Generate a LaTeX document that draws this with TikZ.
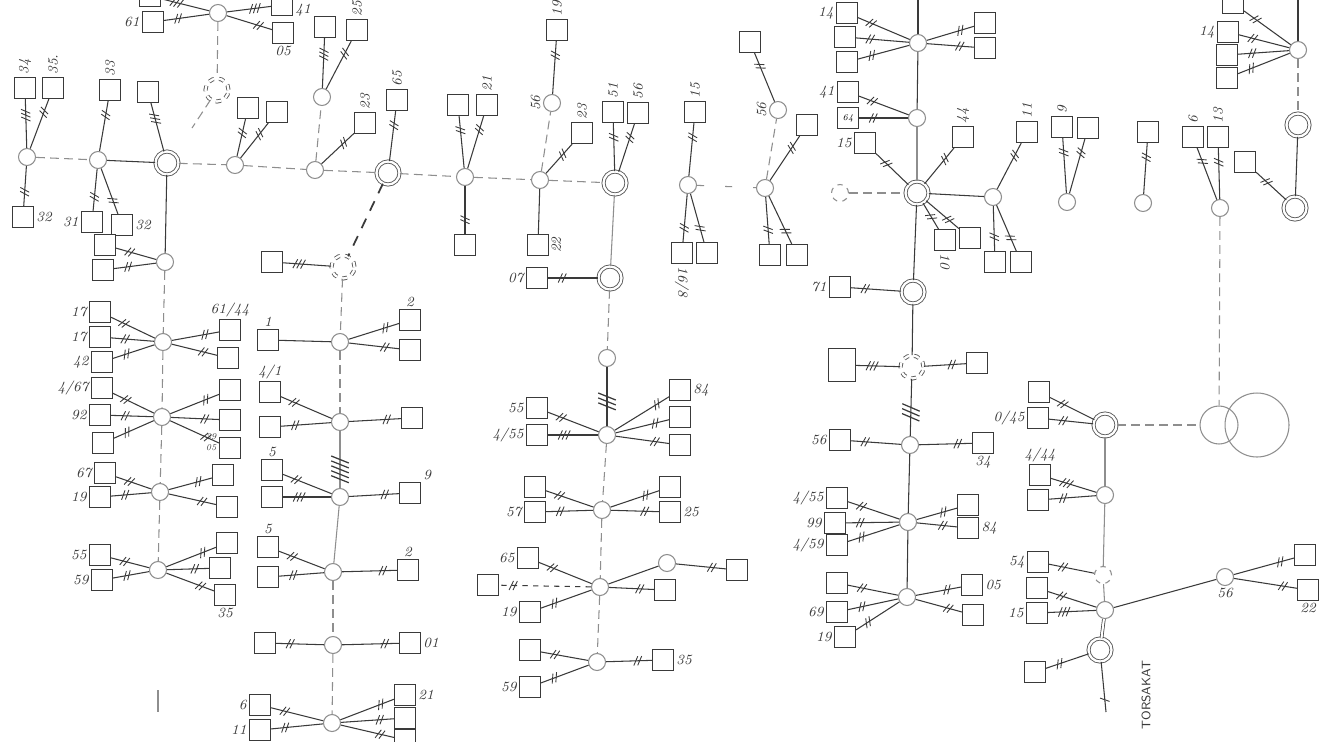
\documentclass[tikz,border=0pt]{standalone}
\usepackage{tikz}
\usetikzlibrary{decorations.markings,positioning}
\definecolor{pen}{HTML}{3A3A3A}
\definecolor{penSoft}{HTML}{8E8E8E}
\tikzset{
  % --- stations and loads ---------------------------------------------------
  bx/.style     = {rectangle, draw=pen, line width=0.6pt, fill=white,
                   minimum size=4.2mm, inner sep=0pt},
  jn/.style     = {circle, draw=penSoft, line width=0.6pt, fill=white,
                   minimum size=3.4mm, inner sep=0pt},
  sub/.style    = {circle, draw=pen!85, double=white, double distance=1.3pt,
                   line width=0.5pt, minimum size=4.6mm, inner sep=0pt},
  ring/.style   = {circle, draw=penSoft, line width=0.6pt, inner sep=0pt},
  % --- labels ----------------------------------------------------------------
  lbl/.style    = {font=\itshape\footnotesize, text=pen, inner sep=1.2pt},
  vup/.style    = {lbl, rotate=90, anchor=west},
  vleft/.style  = {lbl, rotate=90, anchor=south},
  vright/.style = {lbl, rotate=90, anchor=north},
  vdown/.style  = {lbl, rotate=-90, anchor=west},
  % --- cables ----------------------------------------------------------------
  wire/.style   = {draw=pen, line width=0.6pt},
  soft/.style   = {draw=penSoft, line width=0.6pt},
  trunk/.style  = {draw=penSoft, line width=0.6pt, dash pattern=on 5pt off 3pt},
  heavy/.style  = {draw=pen, line width=1pt, dash pattern=on 6pt off 5pt},
  tk/.style     = {wire, postaction={decorate, decoration={markings,
                   mark=at position -7pt with {\foreach \k in {1,...,#1}
                   {\draw[pen, solid, line width=0.5pt, xshift={-(\k-1)*2.2pt}]
                    (-1.2pt,-2.6pt) -- (1.2pt,2.6pt);}}}}},
  tk/.default   = 2,
  midtk/.style  = {postaction={decorate, decoration={markings,
                   mark=at position 0.5 with {\foreach \k in {1,...,#1}
                   {\draw[pen, solid, line width=0.7pt, xshift={(\k-1)*2.8pt}]
                    (-2pt,-5pt) -- (2pt,5pt);}}}}},
}

\begin{document}
\begin{tikzpicture}[x=0.02cm, y=-0.02cm]
\clip (0,0) rectangle (1327,741);
\fill[white] (0,0) rectangle (1327,741);

% ----------------------------- upper trunk, west ---------------------------
\node[jn] (jA) at (27,157) {};
\node[bx, label={[vup]north:34}]  (a1) at (25,88) {};
\node[bx, label={[vup]north:35.}] (a2) at (53,88) {};
\node[bx, label={[lbl]east:32}]   (a3) at (23,217) {};

\node[jn] (jB) at (98,160) {};
\node[bx, label={[vup]north:33}] (b1) at (110,90) {};
\node[bx, label={[lbl]west:31}]  (b2) at (92,222) {};
\node[bx, label={[lbl]east:32}]  (b3) at (122,225) {};

\node[sub] (sC) at (167,163) {};
\node[bx]  (c1) at (148,92) {};
\node[jn]  (jC) at (165,262) {};
\node[bx]  (c2) at (105,245) {};
\node[bx]  (c3) at (103,270) {};

\node[jn] (jD) at (235,165) {};
\node[bx] (d1) at (248,108) {};
\node[bx] (d2) at (277,112) {};

\node[jn] (jE) at (315,170) {};
\node[jn] (jF) at (322,97) {};
\node[bx] (f1) at (325,27) {};
\node[bx, label={[vup]north:25}] (f2) at (357,30) {};
\node[bx, label={[vup]north:23}] (e1) at (365,123) {};

% top cluster
\node[jn] (jTop) at (218,13) {};
\node[bx] (n0) at (150,-4) {};
\node[bx, label={[lbl]west:61}]  (n1) at (153,22) {};
\node[bx, label={[lbl, yshift=-3pt]east:41}] (n2) at (282,5) {};
\node[bx, label={[lbl]south:05}] (n3) at (283,33) {};
\node[sub, dashed] (sT) at (217,90) {};
\coordinate (tEnd) at (192,128);

% ----------------------------- upper trunk, middle -------------------------
\node[sub] (sG) at (388,173) {};
\node[bx, label={[vup]north:65}] (g1) at (397,100) {};
\node[sub, dashed] (sH) at (343,267) {};
\node[bx] (h1) at (272,262) {};

\node[jn] (jI) at (465,177) {};
\node[bx] (i1) at (458,105) {};
\node[bx, label={[vup]north:21}] (i2) at (487,105) {};
\node[bx] (i3) at (465,245) {};

\node[jn] (jJ) at (540,180) {};
\node[jn, label={[vleft]west:56}] (jK) at (552,103) {};
\node[bx, label={[vup]north:19}]  (k1) at (557,30) {};
\node[bx, label={[vup]north:23}]  (j1) at (582,133) {};
\node[bx, label={[vright]east:22}] (j2) at (538,245) {};

\node[sub] (sL) at (615,183) {};
\node[bx, label={[vup]north:51}] (l1) at (613,112) {};
\node[bx, label={[vup]north:56}] (l2) at (638,113) {};
\node[sub] (sM) at (610,278) {};
\node[bx, label={[lbl]west:07}] (m1) at (537,278) {};

\node[jn] (jN) at (607,358) {};
\node[jn] (jO) at (607,435) {};
\node[bx, label={[lbl]west:55}]   (o1) at (537,408) {};
\node[bx, label={[lbl]west:4/55}] (o2) at (537,435) {};
\node[bx, label={[lbl]east:84}]   (o3) at (680,390) {};
\node[bx] (o4) at (680,417) {};
\node[bx] (o5) at (680,445) {};

% ----------------------------- middle column, lower ------------------------
\node[jn] (jR1) at (602,510) {};
\node[bx] (r1) at (535,487) {};
\node[bx, label={[lbl]west:57}] (r2) at (535,512) {};
\node[bx] (r3) at (670,487) {};
\node[bx, label={[lbl]east:25}] (r4) at (670,512) {};

\node[jn] (jR2) at (600,587) {};
\node[bx, label={[lbl]west:65}] (r5) at (528,558) {};
\node[bx] (r6) at (488,585) {};
\node[bx, label={[lbl]west:19}] (r7) at (530,612) {};
\node[jn] (cR) at (667,563) {};
\node[bx] (r8) at (737,570) {};
\node[bx] (r9) at (665,590) {};

\node[jn] (jR3) at (597,662) {};
\node[bx] (r10) at (530,650) {};
\node[bx, label={[lbl]west:59}] (r11) at (530,687) {};
\node[bx, label={[lbl]east:35}] (r12) at (663,660) {};

% ----------------------------- upper trunk, east ---------------------------
\node[jn] (jP) at (688,185) {};
\node[bx, label={[vup]north:15}]     (p1) at (695,112) {};
\node[bx, label={[vdown]south:16/8}] (p2) at (682,253) {};
\node[bx] (p3) at (707,253) {};

\node[jn] (jQ) at (765,188) {};
\node[jn, label={[vleft]west:56}] (cQ) at (778,110) {};
\node[bx] (q1) at (750,42) {};
\node[bx] (q2) at (807,125) {};
\node[bx] (q3) at (770,255) {};
\node[bx] (q4) at (797,255) {};
\node[jn, dashed] (cX) at (840,193) {};

% ----------------------------- main feeder -------------------------------
\coordinate (fTop) at (918,0);
\node[jn] (jS) at (918,43) {};
\node[bx, label={[lbl]west:14}] (s1) at (847,13) {};
\node[bx] (s2) at (845,37) {};
\node[bx] (s3) at (847,62) {};
\node[bx] (s4) at (985,23) {};
\node[bx] (s5) at (985,48) {};

\node[jn] (jT) at (917,118) {};
\node[bx, label={[lbl]west:41}] (v1) at (848,92) {};
\node[bx, font=\itshape\tiny]   (v2) at (848,118) {64};

\node[sub] (sU) at (917,193) {};
\node[bx, label={[lbl]west:15}] (w1) at (865,143) {};
\node[bx, label={[vup]north:44}] (w2) at (963,137) {};
\node[bx, label={[vdown]south:10}] (w4) at (945,240) {};
\node[bx] (w5) at (970,238) {};
\node[jn] (jV) at (993,197) {};
\node[bx, label={[vup]north:11}] (w3) at (1027,132) {};
\node[bx] (w6) at (995,262) {};
\node[bx] (w7) at (1021,262) {};

\node[sub] (sV) at (913,292) {};
\node[bx, label={[lbl]west:71}] (x1) at (840,287) {};
\node[sub, dashed] (sW) at (912,367) {};
\node[bx, minimum width=5.4mm, minimum height=6.6mm] (x2) at (842,365) {};
\node[bx] (x3) at (977,363) {};

\node[jn] (jK2) at (910,445) {};
\node[bx, label={[lbl]west:56}]  (x4) at (840,440) {};
\node[bx, label={[lbl]south:34}] (x5) at (983,443) {};

\node[jn] (jL2) at (908,522) {};
\node[bx, label={[lbl]west:4/55}] (y1) at (837,498) {};
\node[bx, label={[lbl]west:99}]   (y2) at (835,523) {};
\node[bx, label={[lbl]west:4/59}] (y3) at (837,545) {};
\node[bx] (y4) at (968,505) {};
\node[bx, label={[lbl]east:84}] (y5) at (968,528) {};

\node[jn] (jM2) at (907,597) {};
\node[bx] (z1) at (837,583) {};
\node[bx, label={[lbl]west:69}] (z2) at (837,612) {};
\node[bx, label={[lbl]west:19}] (z3) at (845,637) {};
\node[bx, label={[lbl]east:05}] (z4) at (972,585) {};
\node[bx] (z5) at (973,615) {};

% ----------------------------- far east ----------------------------------
\node[jn] (jZ) at (1067,202) {};
\node[bx, label={[vup]north:9}] (zz1) at (1062,127) {};
\node[bx] (zz2) at (1088,128) {};
\node[jn] (cAA) at (1143,203) {};
\node[bx] (aa1) at (1148,132) {};
\node[jn] (jBB) at (1220,208) {};
\node[bx, label={[vup]north:6}]  (bb1) at (1193,137) {};
\node[bx, label={[vup]north:13}] (bb2) at (1218,137) {};

\coordinate (eTop) at (1298,0);
\node[jn] (jW) at (1298,50) {};
\node[bx] (ww0) at (1233,3) {};
\node[bx, label={[lbl]west:14}] (ww1) at (1228,32) {};
\node[bx] (ww2) at (1227,55) {};
\node[bx] (ww3) at (1227,78) {};
\node[sub] (sX) at (1298,125) {};
\node[sub] (sY) at (1295,208) {};
\node[bx] (yy1) at (1245,162) {};

\node[ring, minimum size=7.6mm]  (bigA) at (1219,425) {};
\node[ring, minimum size=12.8mm] (bigB) at (1257,425) {};

\node[sub] (sCC) at (1105,425) {};
\node[bx] (cc1) at (1039,392) {};
\node[bx, label={[lbl]west:0/45}] (cc2) at (1038,418) {};
\node[jn] (jDD) at (1105,495) {};
\node[bx, label={[lbl]north:4/44}] (dd1) at (1040,475) {};
\node[bx] (dd2) at (1038,500) {};
\node[jn, dashed] (jEE) at (1103,575) {};
\node[bx, label={[lbl]west:54}] (ee1) at (1038,562) {};
\node[jn] (jFF) at (1105,610) {};
\node[bx] (ff1) at (1037,588) {};
\node[bx, label={[lbl]west:15}] (ff2) at (1037,613) {};
\node[jn, label={[lbl]south:56}] (jGG) at (1225,577) {};
\node[bx] (gg1) at (1305,555) {};
\node[bx, label={[lbl]south:22}] (gg2) at (1308,590) {};
\node[sub] (sHH) at (1100,650) {};
\node[bx] (hh1) at (1035,672) {};
\coordinate (hEnd) at (1106,712);
\node[lbl, font=\sffamily\scriptsize, rotate=90] (tors) at (1146,695) {TORSAKAT};

% ----------------------------- west column -------------------------------
\node[jn] (jLa) at (163,342) {};
\node[bx, label={[lbl]west:17}] (la1) at (100,312) {};
\node[bx, label={[lbl]west:17}] (la2) at (100,337) {};
\node[bx, label={[lbl]west:42}] (la3) at (102,362) {};
\node[bx, label={[lbl]north:61/44}] (la4) at (230,330) {};
\node[bx] (la5) at (228,358) {};

\node[jn] (jLb) at (162,417) {};
\node[bx, label={[lbl]west:4/67}] (lb1) at (102,388) {};
\node[bx, label={[lbl]west:92}]   (lb2) at (100,415) {};
\node[bx] (lb3) at (103,443) {};
\node[bx] (lb4) at (230,390) {};
\node[bx, label={[lbl, font=\itshape\tiny]south west:39}] (lb5) at (230,420) {};
\node[bx, label={[lbl, font=\itshape\tiny]west:05}] (lb6) at (230,448) {};

\node[jn] (jLc) at (160,492) {};
\node[bx, label={[lbl]west:67}] (lc1) at (105,473) {};
\node[bx, label={[lbl]west:19}] (lc2) at (100,497) {};
\node[bx] (lc3) at (223,475) {};
\node[bx] (lc4) at (227,507) {};

\node[jn] (jLd) at (158,570) {};
\node[bx, label={[lbl]west:55}] (ld1) at (100,555) {};
\node[bx, label={[lbl]west:59}] (ld2) at (102,580) {};
\node[bx] (ld3) at (227,543) {};
\node[bx] (ld4) at (220,568) {};
\node[bx, label={[lbl]south:35}] (ld5) at (225,595) {};
\coordinate (ldA) at (158,690);
\coordinate (ldB) at (158,712);

% ----------------------------- second column -----------------------------
\node[jn] (jMa) at (340,342) {};
\node[bx, label={[lbl]north:1}] (ma1) at (268,340) {};
\node[bx, label={[lbl]north:2}] (ma2) at (410,320) {};
\node[bx] (ma3) at (410,350) {};

\node[jn] (jMb) at (340,422) {};
\node[bx, label={[lbl]north:4/1}] (mb1) at (270,392) {};
\node[bx] (mb2) at (270,427) {};
\node[bx] (mb3) at (412,418) {};

\node[jn] (jMc) at (340,497) {};
\node[bx, label={[lbl]north:5}] (mc1) at (272,470) {};
\node[bx] (mc2) at (272,497) {};
\node[bx, label={[lbl]north east:9}] (mc3) at (410,493) {};

\node[jn] (jMd) at (333,572) {};
\node[bx, label={[lbl]north:5}] (md1) at (268,547) {};
\node[bx] (md2) at (268,577) {};
\node[bx, label={[lbl]north:2}] (md3) at (408,570) {};

\node[jn] (jMe) at (333,645) {};
\node[bx] (me1) at (265,643) {};
\node[bx, label={[lbl]east:01}] (me2) at (410,643) {};

\node[jn] (jMf) at (332,723) {};
\node[bx, label={[lbl]west:6}]  (mf1) at (260,705) {};
\node[bx, label={[lbl]west:11}] (mf2) at (260,730) {};
\node[bx, label={[lbl]east:21}] (mf3) at (405,695) {};
\node[bx] (mf4) at (405,718) {};
\node[bx] (mf5) at (405,740) {};

% ----------------------------- feeders -----------------------------------
\draw[trunk] (jA) -- (jB);
\draw[wire]  (jB) -- (sC);
\draw[trunk] (sC) -- (jD);
\draw[trunk] (jD) -- (jE);
\draw[trunk] (jE) -- (jF);
\draw[trunk] (jE) -- (sG);
\draw[heavy] (sG) -- (sH);
\draw[trunk] (sG) -- (jI);
\draw[trunk] (jI) -- (jJ);
\draw[trunk] (jJ) -- (jK);
\draw[trunk] (jJ) -- (sL);
\draw[soft]  (sL) -- (sM);
\draw[trunk] (sM) -- (jN);
\draw[wire, midtk=3] (jN) -- (jO);
\draw[trunk] (jO) -- (jR1);
\draw[trunk] (jR1) -- (jR2);
\draw[trunk] (jR2) -- (jR3);
\draw[wire]  (jR2) -- (cR);
\draw[trunk] (jTop) -- (sT);
\draw[trunk] (sT) -- (tEnd);
\draw[wire]  (sC) -- (jC);
\draw[trunk] (jC) -- (jLa);
\draw[trunk] (jLa) -- (jLb);
\draw[trunk] (jLb) -- (jLc);
\draw[trunk] (jLc) -- (jLd);
\draw[soft]  (ldA) -- (ldB);
\draw[trunk] (sH) -- (jMa);
\draw[trunk] (jMa) -- (jMb);
\draw[soft, midtk=5] (jMb) -- (jMc);
\draw[soft]  (jMc) -- (jMd);
\draw[trunk] (jMd) -- (jMe);
\draw[trunk] (jMe) -- (jMf);
\draw[trunk, dash pattern=on 4pt off 12pt] (jP) -- (jQ);
\draw[trunk] (jQ) -- (cQ);
\draw[trunk] (cX) -- (sU);
\draw[wire]  (fTop) -- (jS);
\draw[wire]  (jS) -- (jT);
\draw[soft]  (jT) -- (sU);
\draw[wire]  (sU) -- (jV);
\draw[wire]  (sU) -- (sV);
\draw[wire]  (sV) -- (sW);
\draw[wire, midtk=3] (sW) -- (jK2);
\draw[wire]  (jK2) -- (jL2);
\draw[wire]  (jL2) -- (jM2);
\draw[wire]  (eTop) -- (jW);
\draw[trunk] (jW) -- (sX);
\draw[wire]  (sX) -- (sY);
\draw[trunk] (jBB) -- (bigA);
\draw[trunk] (sCC) -- (bigA);
\draw[soft]  (sCC) -- (jDD);
\draw[soft]  (jDD) -- (jEE);
\draw[soft]  (jEE) -- (jFF);
\draw[wire]  (jFF) -- (jGG);
\draw[wire, double=white, double distance=1.2pt, line width=0.4pt] (jFF) -- (sHH);
\draw[tk=1]  (sHH) -- (hEnd);

% ----------------------------- service cables -----------------------------
\foreach \j/\b in {jA/a2, jA/a3, jB/b1, jB/b2, jB/b3, jC/c2, jC/c3, jD/d1, jD/d2,
                   jF/f2, jE/e1, jTop/n1, jTop/n3, sG/g1, jI/i1, jI/i2, jI/i3,
                   jK/k1, jJ/j1, sL/l1, sL/l2, sM/m1, jO/o1, jO/o3, jO/o4, jO/o5}
  { \draw[tk] (\j) -- (\b); }
\foreach \j/\b in {jA/a1, sC/c1, jF/f1, jTop/n0, jTop/n2, sH/h1, jO/o2}
  { \draw[tk=3] (\j) -- (\b); }
\draw[wire] (jJ) -- (j2);

\foreach \j/\b in {jR1/r1, jR1/r2, jR1/r3, jR1/r4, jR2/r5, jR2/r7, cR/r8, jR2/r9,
                   jR3/r10, jR3/r11, jR3/r12}
  { \draw[tk] (\j) -- (\b); }
\draw[tk, dash pattern=on 3pt off 3pt] (jR2) -- (r6);

\foreach \j/\b in {jP/p1, jP/p2, jP/p3, cQ/q1, jQ/q2, jQ/q3, jQ/q4,
                   jS/s1, jS/s2, jS/s3, jS/s4, jS/s5, jT/v1, jT/v2,
                   sU/w1, sU/w2, sU/w4, sU/w5, jV/w3, jV/w6, jV/w7,
                   sV/x1, sW/x3, jK2/x4, jK2/x5,
                   jL2/y1, jL2/y2, jL2/y3, jL2/y4, jL2/y5,
                   jM2/z1, jM2/z2, jM2/z3, jM2/z4, jM2/z5}
  { \draw[tk] (\j) -- (\b); }
\draw[tk=3] (sW) -- (x2);

\foreach \j/\b in {jZ/zz1, jZ/zz2, cAA/aa1, jBB/bb1, jBB/bb2,
                   jW/ww0, jW/ww1, jW/ww2, jW/ww3, sY/yy1,
                   sCC/cc1, sCC/cc2, jDD/dd2, jEE/ee1, jFF/ff1,
                   jGG/gg1, jGG/gg2, sHH/hh1}
  { \draw[tk] (\j) -- (\b); }
\foreach \j/\b in {jDD/dd1, jFF/ff2}
  { \draw[tk=3] (\j) -- (\b); }

\foreach \j/\b in {jLa/la1, jLa/la2, jLa/la3, jLa/la4, jLa/la5,
                   jLb/lb1, jLb/lb2, jLb/lb3, jLb/lb4, jLb/lb5, jLb/lb6,
                   jLc/lc1, jLc/lc2, jLc/lc3, jLc/lc4,
                   jLd/ld1, jLd/ld2, jLd/ld3, jLd/ld4, jLd/ld5}
  { \draw[tk] (\j) -- (\b); }

\draw[wire] (jMa) -- (ma1);
\foreach \j/\b in {jMa/ma2, jMa/ma3, jMb/mb1, jMb/mb2, jMb/mb3,
                   jMc/mc1, jMc/mc3, jMd/md1, jMd/md2, jMd/md3,
                   jMe/me1, jMe/me2, jMf/mf1, jMf/mf2, jMf/mf3, jMf/mf4, jMf/mf5}
  { \draw[tk] (\j) -- (\b); }
\draw[tk=3] (jMc) -- (mc2);

\end{tikzpicture}
\end{document}
